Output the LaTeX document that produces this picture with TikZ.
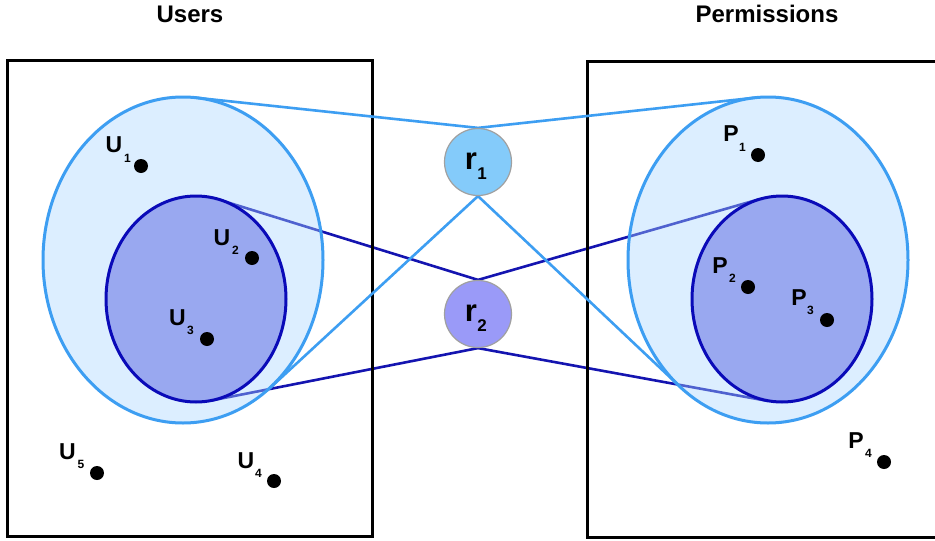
\documentclass[tikz,border=0pt]{standalone}
\usepackage{fontspec}
\setmainfont{Liberation Sans}
\usetikzlibrary{shapes.geometric}
\definecolor{outerfill}{HTML}{A8D6FF}
\definecolor{outerline}{HTML}{3D9EF2}
\definecolor{innerfill}{HTML}{99A8F0}
\definecolor{innerline}{HTML}{0A0AB8}
\definecolor{darkline}{HTML}{1414B0}
\definecolor{roleone}{HTML}{84CBFA}
\definecolor{roletwo}{HTML}{9A9AF8}
\definecolor{roleline}{HTML}{A0A0A0}
\pgfdeclarelayer{back}
\pgfdeclarelayer{front}
\pgfsetlayers{back,main,front}
\begin{document}
\begin{tikzpicture}[x=1pt,y=-1pt,
  setbox/.style={draw=black,line width=3pt},
  outerE/.style={ellipse,draw=outerline,fill=outerfill,fill opacity=0.4,draw opacity=1,line width=3pt,inner sep=0pt,minimum width=280pt,minimum height=326pt},
  innerE/.style={ellipse,draw=innerline,fill=innerfill,line width=3pt,inner sep=0pt,minimum width=180pt,minimum height=206pt},
  role/.style={circle,draw=roleline,line width=1.2pt,inner sep=0pt,minimum size=67pt},
  title/.style={inner sep=0pt,font=\bfseries\fontsize{24}{24}\selectfont},
  elem/.style={inner sep=0pt,font=\bfseries\fontsize{23}{23}\selectfont},
  esub/.style={inner sep=0pt,font=\bfseries\fontsize{12}{12}\selectfont},
  rlab/.style={inner sep=0pt,font=\bfseries\fontsize{31}{31}\selectfont},
  rsub/.style={inner sep=0pt,font=\bfseries\fontsize{17}{17}\selectfont},
  dot/.style={circle,fill=black,inner sep=0pt,minimum size=14pt},
  lightconn/.style={draw=outerline,line width=2.6pt,line join=round},
  darkconn/.style={draw=darkline,line width=2.6pt,line join=round}]
\useasboundingbox (0,0) rectangle (935,541);
\begin{pgfonlayer}{back}
\fill[white] (0,0) rectangle (935,541);
\end{pgfonlayer}

% titles
\node[title] (tU) at (190,14) {Users};
\node[title] (tP) at (767,14) {Permissions};

% boxes
\draw[setbox] (7,60) rectangle (372,536);
\draw[setbox] (940,61) -- (587,61) -- (587,537) -- (940,537);

% ellipses
\node[outerE] (oL) at (183,260) {};
\node[outerE] (oR) at (768,260) {};
\node[innerE] (iL) at (196,299) {};
\node[innerE] (iR) at (782,299) {};

% roles
\begin{pgfonlayer}{front}
\node[role,fill=roleone] (r1) at (478,162) {};
\node[role,fill=roletwo] (r2) at (478,314) {};
\node[rlab] (r1l) at (471,161) {r};
\node[rsub] (r1s) at (482,174) {1};
\node[rlab] (r2l) at (471,313) {r};
\node[rsub] (r2s) at (482,326) {2};
\end{pgfonlayer}

% users
\node[elem] (U1) at (114,145) {U};
\node[esub] (U1s) at (127.5,158) {1};
\node[dot] (u1) at (141,166) {};
\node[elem] (U2) at (222,238) {U};
\node[esub] (U2s) at (235.5,250) {2};
\node[dot] (u2) at (252,258) {};
\node[elem] (U3) at (177.5,318) {U};
\node[esub] (U3s) at (190.5,330) {3};
\node[dot] (u3) at (207,339) {};
\node[elem] (U5) at (67.5,452) {U};
\node[esub] (U5s) at (81,464) {5};
\node[dot] (u5) at (97,473) {};
\node[elem] (U4) at (246,461) {U};
\node[esub] (U4s) at (258.5,473) {4};
\node[dot] (u4) at (274,481) {};

% permissions
\node[elem] (P1) at (731,133.5) {P};
\node[esub] (P1s) at (742.5,147) {1};
\node[dot] (p1) at (758,155) {};
\node[elem] (P2) at (720,266) {P};
\node[esub] (P2s) at (732.5,278) {2};
\node[dot] (p2) at (748,287) {};
\node[elem] (P3) at (799,298) {P};
\node[esub] (P3s) at (810.5,310) {3};
\node[dot] (p3) at (827,320) {};
\node[elem] (P4) at (856,441) {P};
\node[esub] (P4s) at (868.5,453) {4};
\node[dot] (p4) at (884,462) {};

% tangent points
\coordinate (oLt) at (196,97.7);
\coordinate (oRt) at (754.8,97.7);
\coordinate (oLb) at (270,388);
\coordinate (oRb) at (679.8,386.5);
\coordinate (iLt) at (220,200);
\coordinate (iRt) at (760,199);
\coordinate (iLb) at (211.3,400.5);
\coordinate (iRb) at (768,401);

% connectors
\begin{pgfonlayer}{back}
\draw[darkconn] (iLt) -- (r2.north) -- (iRt);
\draw[darkconn] (iLb) -- (r2.south) -- (iRb);
\end{pgfonlayer}
\draw[lightconn] (oLt) -- (r1.north) -- (oRt);
\draw[lightconn] (oLb) -- (r1.south) -- (oRb);
\end{tikzpicture}
\end{document}
